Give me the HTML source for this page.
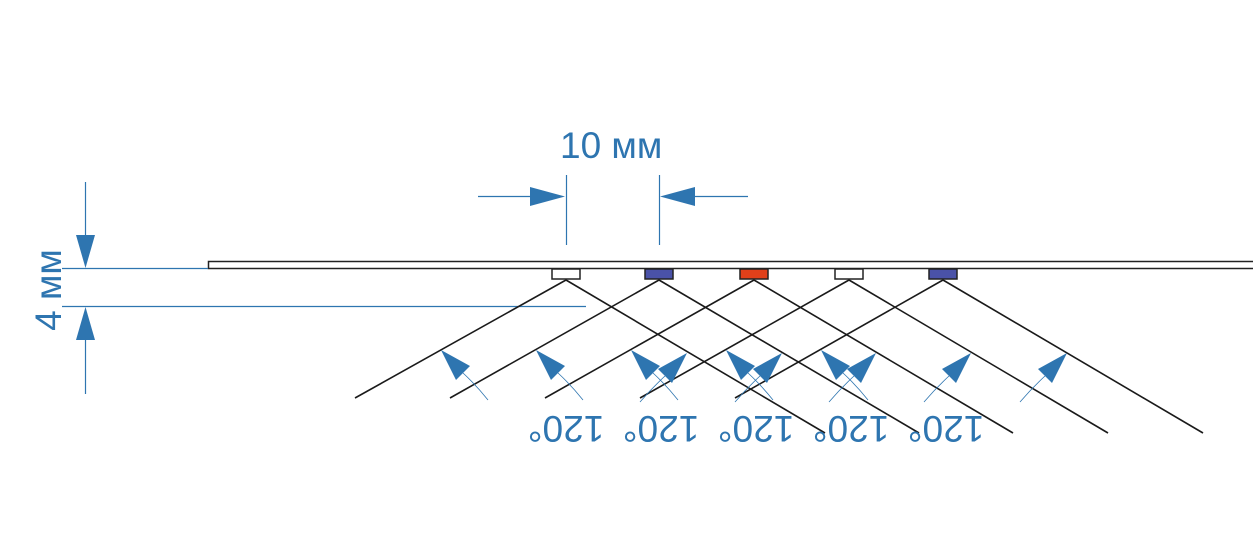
<!DOCTYPE html>
<html><head><meta charset="utf-8"><style>
html,body{margin:0;padding:0;background:#fff;}
svg{display:block;}
</style></head><body>
<svg width="1253" height="546" viewBox="0 0 1253 546" xmlns="http://www.w3.org/2000/svg" font-family="'Liberation Sans', Arial, sans-serif">
<rect x="208.5" y="261.5" width="1050" height="7" fill="#fff" stroke="#222" stroke-width="1.5"/>
<g stroke="#2e75b0" stroke-width="1.2">
<line x1="62" y1="268.5" x2="208" y2="268.5"/>
<line x1="62" y1="306.5" x2="586" y2="306.5"/>
<line x1="85.5" y1="182" x2="85.5" y2="240"/>
<line x1="85.5" y1="336" x2="85.5" y2="394"/>
<line x1="566.5" y1="175" x2="566.5" y2="245"/>
<line x1="659.5" y1="175" x2="659.5" y2="245"/>
<line x1="478" y1="196.5" x2="535" y2="196.5"/>
<line x1="690" y1="196.5" x2="748" y2="196.5"/>
</g>
<g fill="#2e75b0">
<polygon points="85.5,268 76,235 95,235"/>
<polygon points="85.5,307 76,340 95,340"/>
<polygon points="565,196.5 530,187 530,206"/>
<polygon points="660,196.5 695,187 695,206"/>
</g>
<g stroke="#1a1a1a" stroke-width="1.6" fill="none">
<line x1="566" y1="280" x2="355" y2="398"/><line x1="566" y1="280" x2="825" y2="433"/>
<line x1="659" y1="280" x2="450" y2="398"/><line x1="659" y1="280" x2="919" y2="433"/>
<line x1="754" y1="280" x2="545" y2="398"/><line x1="754" y1="280" x2="1013" y2="433"/>
<line x1="849" y1="280" x2="640" y2="398"/><line x1="849" y1="280" x2="1108" y2="433"/>
<line x1="943" y1="280" x2="735" y2="398"/><line x1="943" y1="280" x2="1203" y2="433"/>
</g>
<g stroke="#222" stroke-width="1.5">
<rect x="552" y="269" width="28" height="10" fill="#fff"/>
<rect x="645" y="269" width="28" height="10" fill="#4a52a8"/>
<rect x="740" y="269" width="28" height="10" fill="#e0401a"/>
<rect x="835" y="269" width="28" height="10" fill="#fff"/>
<rect x="929" y="269" width="28" height="10" fill="#4a52a8"/>
</g>
<g fill="#2e75b0">
<polygon points="441,350 456,380 470,366"/>
<polygon points="536,350 551,380 565,366"/>
<polygon points="631,350 646,380 660,366"/>
<polygon points="726,350 741,380 755,366"/>
<polygon points="821,350 836,380 850,366"/>
<polygon points="687,353 672,383 658,369"/>
<polygon points="782,353 767,383 753,369"/>
<polygon points="876,353 861,383 847,369"/>
<polygon points="971,353 956,383 942,369"/>
<polygon points="1067,353 1052,383 1038,369"/>
</g>
<g stroke="#2e75b0" stroke-width="0.8" fill="none">
<path d="M463,373 Q476,385 488,400"/>
<path d="M558,373 Q571,385 583,400"/>
<path d="M653,373 Q666,385 678,400"/>
<path d="M748,373 Q761,385 773,400"/>
<path d="M843,373 Q856,385 868,400"/>
<path d="M665,376 Q652,388 640,402"/>
<path d="M760,376 Q747,388 735,402"/>
<path d="M854,376 Q841,388 829,402"/>
<path d="M949,376 Q936,388 924,402"/>
<path d="M1045,376 Q1032,388 1020,402"/>
</g>
<g fill="#2e75b0" font-size="37">
<text x="560" y="158">10 мм</text>
<text x="0" y="0" text-anchor="middle" transform="translate(61,290) rotate(-90)">4 мм</text>
<g text-anchor="middle">
<text transform="translate(566,416) rotate(180)">120°</text>
<text transform="translate(661,416) rotate(180)">120°</text>
<text transform="translate(756,416) rotate(180)">120°</text>
<text transform="translate(851,416) rotate(180)">120°</text>
<text transform="translate(946,416) rotate(180)">120°</text>
</g>
</g>
</svg>
</body></html>
